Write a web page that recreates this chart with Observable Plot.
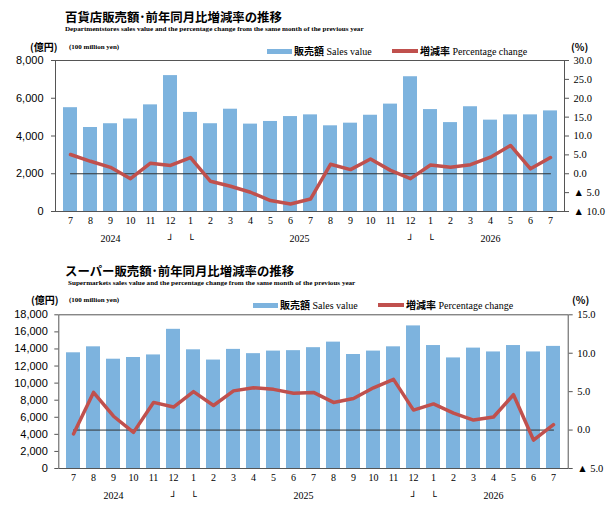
<!DOCTYPE html>
<html><head><meta charset="utf-8">
<script src="https://cdn.jsdelivr.net/npm/d3@7"></script>
<script src="https://cdn.jsdelivr.net/npm/@observablehq/plot@0.6"></script>
<style>
body{margin:0;background:#fff;}
#root{position:relative;width:612px;height:506px;overflow:hidden;background:#fff;}
#root svg{position:absolute;left:0;}
.abs{position:absolute;white-space:nowrap;line-height:1;color:#000;z-index:2;}
.title{font-family:"Noto Sans CJK JP";font-weight:bold;font-size:12.4px;}
.sub{font-family:"Liberation Serif";font-weight:bold;font-size:7.1px;}
.unit{font-family:"Noto Sans CJK JP";font-weight:bold;font-size:10px;}
.unitE{font-family:"Liberation Serif";font-weight:bold;font-size:7px;}
.leg{font-size:10px;}
.leg .j{font-family:"Noto Sans CJK JP";font-weight:bold;}
.leg .e{font-family:"Liberation Serif";}
.sw{position:absolute;z-index:2;}
</style></head>
<body><div id="root"></div>
<script>
const months = [7,8,9,10,11,12,1,2,3,4,5,6,7,8,9,10,11,12,1,2,3,4,5,6,7];
const deptSales = [5500,4450,4650,4900,5650,7200,5250,4650,5420,4630,4770,5030,5120,4540,4680,5100,5690,7140,5400,4710,5550,4840,5120,5120,5330];
const deptPct = [5.1,3.3,1.7,-1.3,2.8,2.2,4.3,-2.0,-3.3,-4.9,-7.1,-8.0,-6.7,2.5,1.1,3.9,0.9,-1.3,2.3,1.7,2.4,4.4,7.5,1.3,4.3];
const superSales = [13550,14250,12800,13000,13300,16300,13900,12700,13950,13450,13750,13800,14150,14800,13350,13750,14250,16700,14400,12950,14100,13650,14400,13650,14300];
const superPct = [-0.5,4.9,1.8,-0.3,3.6,3.0,5.0,3.2,5.1,5.5,5.3,4.8,4.9,3.6,4.1,5.5,6.6,2.6,3.4,2.2,1.3,1.7,4.6,-1.3,0.7];
const yearLabels = ["2024","2025","2026"];
const yearIndex = [2,11,21];
const bracketLabels = ["┘","└","┘","└"];
const bracketIndex = [5,6,17,18];
const deptLeftTicks = [0,2000,4000,6000,8000];
const deptRightTicks = [-10,-5,0,5,10,15,20,25,30];
const superLeftTicks = [0,2000,4000,6000,8000,10000,12000,14000,16000,18000];
const superRightTicks = [-5,0,5,10,15];

const BAR = "#7db3de", LINE = "#c0504d";
const idx = months.map((_, i) => String(i));

function panel(o) {
  const toY = p => (p - o.pMin) / (o.pMax - o.pMin) * o.yMax;
  const fromY = v => Math.round((v / o.yMax * (o.pMax - o.pMin) + o.pMin) * 10) / 10;
  const rows = months.map((m, i) => ({i: String(i), m: String(m), s: o.sales[i], p: o.pct[i]}));
  const years = yearLabels.map((t, k) => ({i: String(yearIndex[k]), t}));
  const brackets = bracketLabels.map((t, k) => ({i: String(bracketIndex[k]), t}));
  const zero = [{i: idx[0], p: 0}, {i: idx[idx.length - 1], p: 0}];
  return Plot.plot({
    width: 612, height: o.h,
    marginLeft: o.mL, marginRight: o.mR, marginTop: o.mT, marginBottom: o.mB,
    style: {background: "transparent", overflow: "visible"},
    x: {type: "band", domain: idx, padding: 0.31, axis: null},
    y: {domain: [0, o.yMax], axis: null},
    marks: [
      Plot.barY(rows, {x: "i", y: "s", fill: BAR}),
      Plot.lineY(zero, {x: "i", y: d => toY(d.p), stroke: "#333", strokeWidth: 1}),
      Plot.lineY(rows, {x: "i", y: d => toY(d.p), stroke: LINE, strokeWidth: 3.5, strokeLinejoin: "round"}),
      Plot.frame({stroke: "#555", strokeWidth: 1}),
      Plot.axisY({anchor: "left", label: null, ticks: o.leftTicks, tickFormat: d3.format(","), tickSize: 4, tickPadding: o.lPad, fontSize: 11, fontFamily: "Liberation Sans", stroke: "#555"}),
      Plot.axisY({anchor: "right", label: null, ticks: o.rightTicks.map(toY), tickFormat: v => { const p = fromY(v); return p < 0 ? "▲ " + Math.abs(p).toFixed(1) : p.toFixed(1); }, tickSize: 4, tickPadding: o.rPad, fontSize: 10.5, fontFamily: "Liberation Serif", stroke: "#555"}),
      Plot.text(rows, {x: "i", text: "m", frameAnchor: "bottom", dy: o.mDy, fontSize: 10, fontFamily: "Liberation Serif", fill: "#000"}),
      Plot.text(years.filter((d, k) => k !== 1), {x: "i", text: "t", frameAnchor: "bottom", dy: o.yDy, fontSize: 10, fontFamily: "Liberation Serif", fill: "#000"}),
      Plot.text(years.filter((d, k) => k === 1), {x: "i", text: "t", frameAnchor: "bottom", dy: o.yDy, dx: o.y25dx, fontSize: 10, fontFamily: "Liberation Serif", fill: "#000"}),
      Plot.text(brackets, {x: "i", text: "t", frameAnchor: "bottom", dy: o.yDy + 1, fontSize: 10, fontFamily: "DejaVu Sans", fill: "#000"})
    ]
  });
}

const root = document.getElementById("root");
const top1 = panel({sales: deptSales, pct: deptPct, yMax: 8000, pMin: -10, pMax: 30, leftTicks: deptLeftTicks, rightTicks: deptRightTicks,
  h: 253, mL: 55, mR: 48, mT: 60, mB: 42, lPad: 8, rPad: 5, mDy: 12, yDy: 30.7, y25dx: 9});
top1.style.top = "0px";
root.appendChild(top1);
const bot = panel({sales: superSales, pct: superPct, yMax: 18000, pMin: -5, pMax: 15, leftTicks: superLeftTicks, rightTicks: superRightTicks,
  h: 253, mL: 58.3, mR: 44.3, mT: 61.3, mB: 38, lPad: 7, rPad: 5, mDy: 12, yDy: 30, y25dx: 10});
bot.style.top = "253px";
root.appendChild(bot);

function txt(cls, html, left, cy, fs) {
  const d = document.createElement("div");
  d.className = "abs " + cls;
  d.innerHTML = html;
  d.style.left = left + "px";
  d.style.top = (cy - fs / 2) + "px";
  root.appendChild(d);
}
function sw(left, width, cy, h, color) {
  const d = document.createElement("div");
  d.className = "sw";
  d.style.left = left + "px"; d.style.width = width + "px";
  d.style.top = (cy - h / 2) + "px"; d.style.height = h + "px";
  d.style.background = color;
  root.appendChild(d);
}
function header(y0, title, sub, subLeft, L) {
  txt("title", title, 65, y0 + 17, 12.4);
  txt("sub", sub, subLeft, y0 + 29.5, 7);
  txt("unit", "(億円)", L.unitX, y0 + L.unitY, 10);
  txt("unitE", "(100 million yen)", 69, y0 + L.unitY + 0.5, 7);
  sw(L.b0, 25, y0 + L.legY, 5, BAR);
  txt("leg", '<span class="j">販売額</span> <span class="e">Sales value</span>', L.b0 + 27, y0 + L.legY, 10);
  sw(L.r0, 26, y0 + L.legY, 3.5, LINE);
  txt("leg", '<span class="j">増減率</span> <span class="e">Percentage change</span>', L.r0 + 28, y0 + L.legY, 10);
  txt("unit", "(%)", L.pctX, y0 + L.unitY, 10);
}
header(0, "百貨店販売額･前年同月比増減率の推移",
  "Departmentstores sales value and the percentage change from the same month of the previous year", 65,
  {unitX: 30, unitY: 47, legY: 51, b0: 267, r0: 392, pctX: 571});
header(254, "スーパー販売額･前年同月比増減率の推移",
  "Supermarkets sales value and the percentage change from the same month of the previous year", 68,
  {unitX: 31, unitY: 45.5, legY: 51, b0: 253, r0: 378, pctX: 572});
</script>
</body></html>
